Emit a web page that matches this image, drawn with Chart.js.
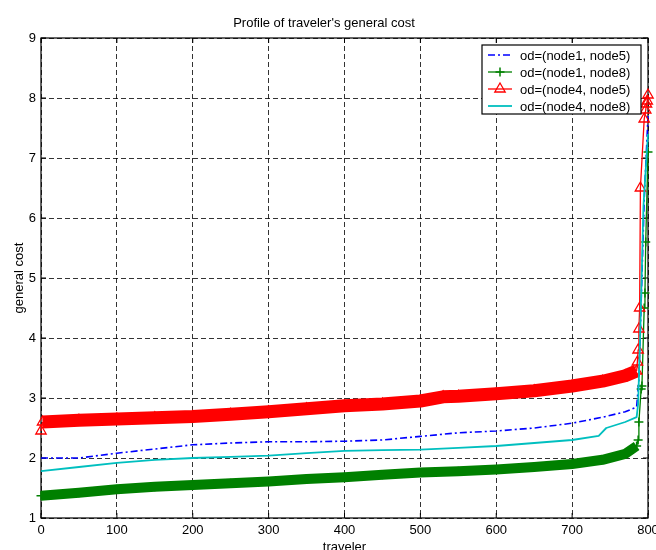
<!DOCTYPE html>
<html>
<head>
<meta charset="utf-8">
<title>Profile of traveler's general cost</title>
<script src="https://cdn.jsdelivr.net/npm/chart.js@4.4.0/dist/chart.umd.min.js"></script>
<style>
  html, body { margin: 0; padding: 0; background: #fff; }
  #wrap { width: 656px; height: 550px; }
</style>
</head>
<body>
<div id="wrap"><canvas id="chart" width="656" height="550"></canvas></div>
<script>
// --- Data ---
const xTicks = [0, 100, 200, 300, 400, 500, 600, 700, 800];
const yTicks = [1, 2, 3, 4, 5, 6, 7, 8, 9];

const seriesNames = ['od=(node1, node5)', 'od=(node1, node8)', 'od=(node4, node5)', 'od=(node4, node8)'];

const travelersN1N5 = [0, 50, 100, 150, 200, 250, 300, 350, 400, 450, 500, 550, 600, 650, 700, 740, 770, 785, 788, 791, 795, 800];
const costN1N5 = [2.0, 2.0, 2.08, 2.15, 2.22, 2.25, 2.27, 2.27, 2.28, 2.3, 2.36, 2.42, 2.45, 2.5, 2.58, 2.68, 2.77, 2.85, 3.3, 4.6, 6.3, 7.7];

const travelersN1N8 = [0, 50, 100, 150, 200, 250, 300, 350, 400, 450, 500, 550, 600, 650, 700, 740, 770, 785, 787, 788, 791, 792, 795, 796, 797, 800];
const costN1N8 = [1.37, 1.42, 1.48, 1.52, 1.55, 1.58, 1.61, 1.65, 1.68, 1.72, 1.76, 1.78, 1.81, 1.85, 1.9, 1.97, 2.07, 2.2, 2.3, 2.6, 3.15, 3.2, 4.5, 4.75, 5.6, 7.1];

const travelersN4N5 = [0, 2, 50, 100, 150, 200, 250, 300, 350, 400, 450, 500, 530, 550, 600, 650, 700, 740, 770, 785, 786, 787, 788, 789, 790, 795, 797, 798, 799, 800];
const costN4N5 = [2.45, 2.6, 2.63, 2.65, 2.67, 2.69, 2.73, 2.77, 2.82, 2.87, 2.9, 2.95, 3.02, 3.03, 3.07, 3.12, 3.2, 3.28, 3.37, 3.45, 3.6, 3.8, 4.15, 4.5, 6.5, 7.65, 7.8, 7.9, 7.95, 8.05];

const travelersN4N8 = [0, 50, 100, 150, 200, 250, 300, 350, 400, 450, 500, 550, 600, 650, 700, 735, 745, 770, 785, 787, 790, 794, 800];
const costN4N8 = [1.78, 1.85, 1.92, 1.97, 2.0, 2.02, 2.04, 2.08, 2.12, 2.13, 2.14, 2.17, 2.2, 2.25, 2.3, 2.37, 2.5, 2.6, 2.68, 2.9, 4.2, 6.2, 7.4];

const FONT = '"Liberation Sans", Arial, Helvetica, sans-serif';
const pair = (xs, ys) => xs.map((x, i) => ({ x, y: ys[i] }));

// the dense markers in the original form a solid band up to the jump at the end
const bandWidth = (w, fromX) => ctx =>
  (ctx.p0.parsed.x >= fromX && ctx.p1.parsed.x <= 785 ? w : undefined);

const datasets = [
  {
    label: seriesNames[0],
    data: pair(travelersN1N5, costN1N5),
    borderColor: '#0000ff',
    borderWidth: 1.6,
    borderDash: [7, 3, 2, 3],
    pointRadius: 0,
    order: 3
  },
  {
    label: seriesNames[1],
    data: pair(travelersN1N8, costN1N8),
    borderColor: '#008000',
    borderWidth: 1.3,
    pointStyle: 'cross',
    pointRadius: 4.5,
    pointBorderWidth: 1.5,
    pointBorderColor: '#008000',
    segment: { borderWidth: bandWidth(10, 0) },
    order: 2
  },
  {
    label: seriesNames[2],
    data: pair(travelersN4N5, costN4N5),
    borderColor: '#ff0000',
    borderWidth: 1.3,
    pointStyle: 'triangle',
    pointRadius: 6,
    pointBorderWidth: 1.3,
    pointBorderColor: '#ff0000',
    pointBackgroundColor: 'rgba(255,255,255,0)',
    segment: { borderWidth: bandWidth(13, 1) },
    order: 1
  },
  {
    label: seriesNames[3],
    data: pair(travelersN4N8, costN4N8),
    borderColor: '#00bfbf',
    borderWidth: 1.8,
    pointRadius: 0,
    order: 0
  }
];

// MATLAB-like axes box with inward tick marks
const axesBox = {
  id: 'axesBox',
  beforeDatasetsDraw(chart) {
    const { ctx, chartArea: a, scales: { x, y } } = chart;
    ctx.save();
    ctx.strokeStyle = '#000';
    ctx.lineWidth = 1.2;
    ctx.strokeRect(a.left, a.top, a.right - a.left, a.bottom - a.top);
    ctx.beginPath();
    xTicks.forEach(v => {
      const px = x.getPixelForValue(v);
      ctx.moveTo(px, a.bottom); ctx.lineTo(px, a.bottom - 5);
      ctx.moveTo(px, a.top); ctx.lineTo(px, a.top + 5);
    });
    yTicks.forEach(v => {
      const py = y.getPixelForValue(v);
      ctx.moveTo(a.left, py); ctx.lineTo(a.left + 5, py);
      ctx.moveTo(a.right, py); ctx.lineTo(a.right - 5, py);
    });
    ctx.lineWidth = 1;
    ctx.stroke();
    ctx.restore();
  }
};

// boxed legend inside the plot, top right
const boxLegend = {
  id: 'boxLegend',
  afterDraw(chart) {
    const { ctx, chartArea: a } = chart;
    const w = 159, rowH = 17;
    const left = a.right - 7 - w, top = a.top + 7;
    const h = rowH * chart.data.datasets.length + 1;
    ctx.save();
    ctx.fillStyle = '#fff';
    ctx.fillRect(left, top, w, h);
    ctx.strokeStyle = '#000';
    ctx.lineWidth = 1.2;
    ctx.strokeRect(left, top, w, h);
    ctx.font = '13px ' + FONT;
    ctx.textBaseline = 'middle';
    chart.data.datasets.forEach((ds, i) => {
      const cy = top + 10 + i * rowH;
      ctx.strokeStyle = ds.borderColor;
      ctx.lineWidth = ds.borderWidth;
      ctx.setLineDash(ds.borderDash || []);
      ctx.beginPath();
      ctx.moveTo(left + 6, cy);
      ctx.lineTo(left + 30, cy);
      ctx.stroke();
      ctx.setLineDash([]);
      if (ds.pointRadius > 0) {
        ctx.lineWidth = ds.pointBorderWidth;
        ctx.fillStyle = ds.pointBackgroundColor || 'rgba(0,0,0,0)';
        Chart.helpers.drawPoint(ctx, { pointStyle: ds.pointStyle, radius: ds.pointRadius, borderWidth: ds.pointBorderWidth, rotation: 0 }, left + 18, cy);
      }
      ctx.fillStyle = '#000';
      ctx.fillText(ds.label, left + 38, cy + 1);
    });
    ctx.restore();
  }
};

new Chart(document.getElementById('chart'), {
  type: 'line',
  data: { datasets },
  plugins: [axesBox, boxLegend],
  options: {
    responsive: false,
    animation: false,
    events: [],
    clip: false,
    layout: { padding: { left: 0, right: 8, top: 0, bottom: 0 } },
    elements: { line: { tension: 0, borderCapStyle: 'butt', borderJoinStyle: 'round' } },
    plugins: {
      legend: { display: false },
      tooltip: { enabled: false },
      title: {
        display: true,
        text: "Profile of traveler's general cost",
        color: '#000',
        font: { family: FONT, size: 13, weight: 'normal', lineHeight: 1.2 },
        padding: { top: 16, bottom: 6.4 }
      }
    },
    scales: {
      x: {
        type: 'linear',
        min: 0,
        max: 800,
        afterBuildTicks: s => { s.ticks = xTicks.map(v => ({ value: v })); },
        afterFit: s => { s.height = 32; s.paddingLeft = 0; s.paddingRight = 0; },
        ticks: { color: '#000', padding: 5, maxRotation: 0, autoSkip: false, font: { family: FONT, size: 13 } },
        grid: { color: 'rgba(0,0,0,0.8)', lineWidth: 1, drawTicks: false },
        border: { display: false, dash: [5, 3] },
        title: {
          display: true,
          text: 'traveler',
          color: '#000',
          font: { family: FONT, size: 13, lineHeight: 1.2 },
          padding: { top: 0, bottom: -5 }
        }
      },
      y: {
        type: 'linear',
        min: 1,
        max: 9,
        afterBuildTicks: s => { s.ticks = yTicks.map(v => ({ value: v })); },
        afterFit: s => { s.width = 41; s.paddingTop = 0; s.paddingBottom = 0; },
        ticks: { color: '#000', padding: 5, autoSkip: false, font: { family: FONT, size: 13 } },
        grid: { color: 'rgba(0,0,0,0.8)', lineWidth: 1, drawTicks: false },
        border: { display: false, dash: [5, 3] },
        title: {
          display: true,
          text: 'general cost',
          color: '#000',
          font: { family: FONT, size: 13, lineHeight: 1.2 },
          padding: { top: 12, bottom: 0 }
        }
      }
    }
  }
});
</script>
</body>
</html>
